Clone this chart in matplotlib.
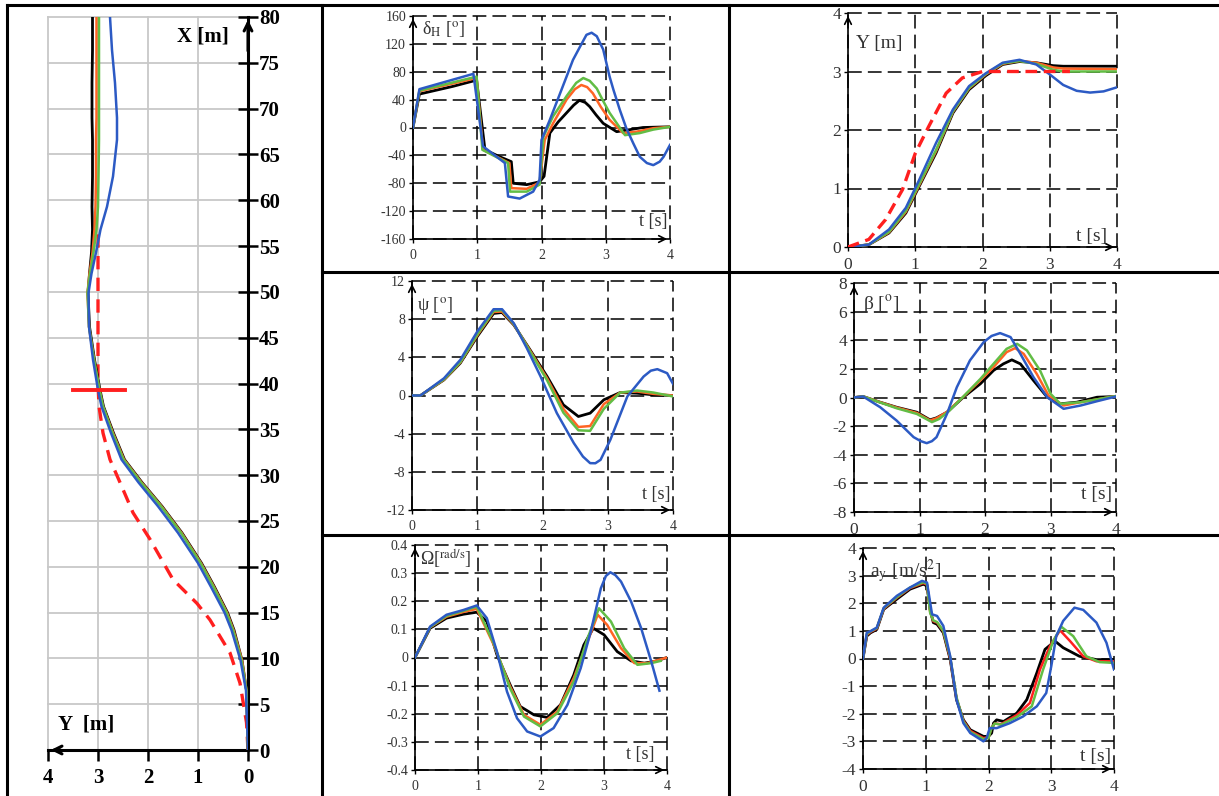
import matplotlib
matplotlib.use("Agg")
import matplotlib.pyplot as plt
from matplotlib.lines import Line2D

plt.rcParams['font.family'] = ['Liberation Serif', 'DejaVu Serif']
plt.rcParams['mathtext.fontset'] = 'stix'

W, H = 1219, 796

BLACK = '#000000'
ORANGE = '#ff6424'
GREEN = '#62bd45'
BLUE = '#2c5ac4'
RED = '#ff1f1f'
TXT = '#333333'

# ---------------- trajectory X-Y (left panel) ----------------
path_X = [0, 6.5, 9.8, 13.1, 15.0, 17.8, 20.4, 23.7, 26.6, 29.2, 31.7, 34.6, 37.5, 39.3,
          42.6, 46.2, 49.9, 52.0, 54.3, 56.8, 59.3, 62.6, 66.6, 69.0, 72.8, 76.4, 80.0]
path_black = [0, 0.03, 0.12, 0.28, 0.41, 0.67, 0.93, 1.32, 1.72, 2.12, 2.47, 2.69, 2.89, 2.96,
              3.07, 3.17, 3.2, 3.17, 3.13, 3.11, 3.12, 3.11, 3.11, 3.12, 3.12, 3.11, 3.11]
path_orange = [0, 0.03, 0.12, 0.29, 0.42, 0.68, 0.94, 1.33, 1.73, 2.13, 2.48, 2.7, 2.9, 2.97,
               3.08, 3.18, 3.21, 3.17, 3.11, 3.07, 3.05, 3.04, 3.04, 3.03, 3.03, 3.03, 3.03]
path_green = [0, 0.03, 0.13, 0.3, 0.43, 0.69, 0.95, 1.34, 1.74, 2.14, 2.49, 2.71, 2.9, 2.97,
              3.08, 3.18, 3.21, 3.16, 3.09, 3.03, 3.0, 2.99, 2.98, 2.98, 2.98, 2.98, 2.98]
path_blue = [0, 0.04, 0.15, 0.33, 0.47, 0.74, 1.0, 1.4, 1.8, 2.19, 2.53, 2.74, 2.93, 3.0,
             3.1, 3.18, 3.19, 3.13, 3.04, 2.95, 2.82, 2.7, 2.62, 2.62, 2.66, 2.72, 2.76]
ref_X = [0, 3, 7.3, 10.6, 14.2, 16.0, 18.6, 23.0, 25.9, 29.2, 31.7, 34.6, 37.5, 40, 57]
ref_Y = [0, 0.03, 0.16, 0.36, 0.76, 1.02, 1.5, 1.96, 2.3, 2.56, 2.76, 2.9, 2.98, 3.0, 3.0]
gate_X = 39.3
gate_Y = [2.46, 3.5]

# ---------------- steering wheel angle dH ----------------
dH_black_t = [0, 0.1, 0.62, 0.99, 1.12, 1.35, 1.53, 1.56, 1.77, 1.97, 2.04, 2.13, 2.26, 2.39,
              2.5, 2.59, 2.68, 2.75, 2.85, 2.96, 3.17, 3.38, 3.58, 4.0]
dH_black = [0, 48, 59, 68, -32, -42, -49, -80, -82, -78, -70, -8, 8, 21, 32, 39, 36, 30, 18, 6,
            -6, -3, 0, 1]
dH_orange_t = [0, 0.1, 0.99, 1.09, 1.5, 1.53, 1.77, 1.97, 2.05, 2.18, 2.39, 2.52, 2.62, 2.71,
               2.8, 2.92, 3.06, 3.27, 3.48, 3.74, 4.0]
dH_orange = [0, 52, 71, -32, -51, -87, -88, -79, -18, 6, 40, 55, 61, 58, 49, 30, 11, -8, -6, -1, 1]
dH_green_t = [0, 0.1, 0.99, 1.08, 1.48, 1.51, 1.77, 1.97, 2.03, 2.18, 2.39, 2.54, 2.65, 2.75,
              2.86, 2.96, 3.06, 3.3, 3.53, 3.74, 4.0]
dH_green = [0, 53, 73, -32, -51, -92, -92, -82, -13, 16, 45, 64, 71, 67, 56, 38, 21, -11, -8, -3, 1]
dH_blue_t = [0, 0.1, 0.94, 1.09, 1.43, 1.48, 1.66, 1.87, 1.97, 2.0, 2.13, 2.39, 2.49, 2.6,
             2.7, 2.78, 2.86, 2.96, 3.06, 3.12, 3.22, 3.32, 3.43, 3.53, 3.64, 3.74, 3.84, 3.9, 4.0]
dH_blue = [0, 55, 77, -27, -51, -99, -102, -92, -75, -18, 11, 73, 97, 116, 133, 136, 131, 112,
           73, 54, 25, -1, -23, -42, -51, -54, -49, -42, -25]

# ---------------- lateral position Y(t) ----------------
Y_ref_t = [0, 0.31, 0.56, 0.81, 1.0, 1.2, 1.46, 1.7, 2.0, 2.5, 3.3]
Y_ref = [0, 0.13, 0.47, 0.98, 1.6, 2.06, 2.63, 2.89, 3.0, 3.0, 3.0]
Y_t = [0, 0.31, 0.61, 0.86, 1.06, 1.31, 1.56, 1.8, 2.05, 2.3, 2.55, 2.8, 3.05, 3.2, 4.0]
Y_black = [0, 0.04, 0.24, 0.58, 1.04, 1.61, 2.29, 2.69, 2.93, 3.12, 3.17, 3.15, 3.1, 3.09, 3.09]
Y_orange = [0, 0.04, 0.25, 0.6, 1.06, 1.64, 2.31, 2.71, 2.95, 3.13, 3.18, 3.15, 3.07, 3.05, 3.04]
Y_green = [0, 0.04, 0.26, 0.62, 1.08, 1.66, 2.32, 2.72, 2.96, 3.14, 3.18, 3.13, 3.03, 3.0, 3.0]
Y_blue_t = [0, 0.31, 0.61, 0.86, 1.06, 1.31, 1.56, 1.8, 2.05, 2.3, 2.55, 2.8, 3.0, 3.2, 3.4,
            3.6, 3.8, 4.0]
Y_blue = [0, 0.04, 0.3, 0.67, 1.15, 1.78, 2.35, 2.75, 2.97, 3.15, 3.2, 3.12, 2.95, 2.77, 2.67,
          2.64, 2.66, 2.73]

# ---------------- yaw angle psi ----------------
psi_t = [0, 0.13, 0.49, 0.74, 1.0, 1.25, 1.38, 1.56, 1.81, 2.07, 2.32, 2.55, 2.73, 2.94, 3.19,
         3.45, 3.7, 4.0]
psi_black = [0, 0, 1.64, 3.39, 6.18, 8.6, 8.7, 7.4, 4.78, 2.0, -0.98, -2.2, -1.85, -0.45, 0.31,
             0.24, 0.07, 0]
psi_orange = [0, 0, 1.66, 3.45, 6.3, 8.75, 8.8, 7.45, 4.7, 1.8, -1.4, -3.3, -3.2, -0.9, 0.3,
              0.42, 0.17, 0]
psi_green = [0, 0, 1.7, 3.5, 6.4, 8.85, 8.95, 7.5, 4.6, 1.6, -1.8, -3.65, -3.7, -1.4, 0.3,
             0.52, 0.31, -0.1]
psi_blue_t = [0, 0.13, 0.49, 0.74, 1.0, 1.25, 1.38, 1.56, 1.76, 1.97, 2.22, 2.48, 2.62, 2.73,
              2.81, 2.89, 3.04, 3.3, 3.55, 3.66, 3.76, 3.91, 4.0]
psi_blue = [0, 0, 1.8, 3.73, 6.7, 9.04, 9.04, 7.57, 4.96, 2.0, -1.85, -4.99, -6.4, -7.09, -7.1,
            -6.74, -4.64, -0.1, 1.99, 2.6, 2.76, 2.34, 1.22]

# ---------------- side slip angle beta ----------------
beta_black_t = [0, 0.14, 0.4, 0.65, 0.96, 1.16, 1.26, 1.42, 1.67, 1.93, 2.13, 2.28, 2.41, 2.54,
                2.74, 2.95, 3.15, 3.4, 3.71, 4.0]
beta_black = [0, 0.07, -0.33, -0.68, -1.03, -1.56, -1.42, -1.03, 0.02, 0.96, 1.89, 2.35, 2.63,
              2.35, 1.19, 0.02, -0.44, -0.33, 0.02, 0.07]
beta_orange_t = [0, 0.14, 0.4, 0.65, 0.96, 1.16, 1.26, 1.42, 1.67, 1.93, 2.13, 2.33, 2.46, 2.59,
                 2.79, 2.97, 3.2, 3.46, 4.0]
beta_orange = [0, 0.07, -0.33, -0.7, -1.08, -1.6, -1.45, -1.0, 0.05, 1.2, 2.12, 3.17, 3.45,
               3.05, 1.65, 0.14, -0.56, -0.33, 0.1]
beta_green_t = [0, 0.14, 0.4, 0.65, 0.96, 1.19, 1.3, 1.45, 1.67, 1.93, 2.13, 2.33, 2.49, 2.64,
                2.84, 3.0, 3.15, 3.46, 4.0]
beta_green = [0, 0.07, -0.35, -0.75, -1.15, -1.72, -1.5, -0.95, 0.07, 1.3, 2.35, 3.4, 3.75,
              3.29, 1.89, 0.26, -0.44, -0.33, 0.1]
beta_blue_t = [0, 0.14, 0.4, 0.65, 0.91, 1.02, 1.11, 1.19, 1.26, 1.42, 1.57, 1.77, 1.98, 2.1,
               2.23, 2.39, 2.54, 2.74, 2.95, 3.2, 3.46, 3.71, 4.0]
beta_blue = [0, 0.07, -0.68, -1.61, -2.77, -3.05, -3.19, -3.05, -2.77, -1.14, 0.72, 2.59, 3.87,
             4.3, 4.5, 4.22, 3.05, 1.42, 0.02, -0.79, -0.56, -0.26, 0.07]

# ---------------- yaw rate Omega ----------------
om_black_t = [0, 0.24, 0.5, 0.77, 0.98, 1.14, 1.3, 1.51, 1.67, 1.89, 2.1, 2.31, 2.52, 2.68, 2.83,
              3.0, 3.21, 3.43, 3.64, 3.8, 4.0]
om_black = [0, 0.104, 0.14, 0.154, 0.161, 0.128, 0.01, -0.097, -0.174, -0.204, -0.213, -0.168,
            -0.062, 0.045, 0.104, 0.081, 0.021, -0.012, -0.02, -0.014, 0]
om_orange_t = [0, 0.24, 0.5, 0.77, 0.98, 1.25, 1.51, 1.73, 1.99, 2.26, 2.52, 2.74, 2.9, 3.05,
               3.27, 3.48, 3.69, 4.0]
om_orange = [0, 0.107, 0.145, 0.162, 0.173, 0.045, -0.103, -0.204, -0.239, -0.192, -0.073,
             0.057, 0.152, 0.116, 0.033, -0.02, -0.02, 0]
om_green_t = [0, 0.24, 0.5, 0.77, 0.98, 1.25, 1.51, 1.73, 1.99, 2.26, 2.52, 2.74, 2.92, 3.11,
              3.32, 3.53, 3.75, 3.9]
om_green = [0, 0.108, 0.148, 0.166, 0.181, 0.05, -0.11, -0.21, -0.245, -0.198, -0.085, 0.069,
            0.175, 0.128, 0.033, -0.026, -0.02, -0.012]
om_blue_t = [0, 0.24, 0.5, 0.77, 0.98, 1.14, 1.3, 1.46, 1.62, 1.78, 1.99, 2.2, 2.42, 2.63, 2.79,
             2.95, 3.03, 3.1, 3.18, 3.27, 3.43, 3.59, 3.75, 3.88]
om_blue = [0, 0.11, 0.152, 0.169, 0.185, 0.14, 0.021, -0.121, -0.216, -0.263, -0.281, -0.251,
           -0.168, -0.038, 0.092, 0.246, 0.29, 0.303, 0.293, 0.27, 0.199, 0.104, -0.014, -0.118]

# ---------------- lateral acceleration ay ----------------
ay_black_t = [0, 0.06, 0.12, 0.22, 0.33, 0.54, 0.75, 0.96, 1.02, 1.07, 1.12, 1.18, 1.28, 1.39,
              1.49, 1.6, 1.71, 1.92, 2.0, 2.05, 2.08, 2.13, 2.24, 2.45, 2.61, 2.77, 2.9, 3.06,
              3.19, 3.45, 3.72, 4.0]
ay_black = [0, 0.81, 0.93, 1.05, 1.78, 2.15, 2.51, 2.69, 2.63, 1.78, 1.3, 1.24, 0.93, -0.04,
            -1.49, -2.22, -2.58, -2.82, -2.82, -2.7, -2.34, -2.22, -2.28, -1.98, -1.49, -0.52,
            0.33, 0.63, 0.39, 0.08, -0.04, -0.04]
ay_red_t = [0, 0.06, 0.12, 0.22, 0.33, 0.54, 0.75, 0.96, 1.02, 1.07, 1.12, 1.18, 1.28, 1.39,
            1.49, 1.6, 1.71, 1.92, 2.0, 2.05, 2.1, 2.2, 2.45, 2.66, 2.82, 2.98, 3.14, 3.3, 3.51,
            3.72, 4.0]
ay_red = [0, 0.85, 0.96, 1.08, 1.8, 2.2, 2.55, 2.73, 2.67, 1.7, 1.35, 1.3, 0.98, 0.0, -1.45,
          -2.25, -2.62, -2.88, -2.85, -2.5, -2.35, -2.38, -2.05, -1.61, -0.4, 0.45, 1.02, 0.63,
          0.08, -0.1, -0.1]
ay_green_t = [0, 0.06, 0.12, 0.22, 0.33, 0.54, 0.75, 0.96, 1.02, 1.07, 1.12, 1.18, 1.28, 1.39,
              1.49, 1.6, 1.71, 1.92, 2.0, 2.05, 2.1, 2.2, 2.45, 2.69, 2.87, 3.03, 3.16, 3.35,
              3.56, 3.77, 4.0]
ay_green = [0, 0.88, 0.98, 1.1, 1.82, 2.22, 2.57, 2.76, 2.7, 1.65, 1.38, 1.32, 1.0, 0.05, -1.4,
            -2.28, -2.66, -2.92, -2.88, -2.5, -2.35, -2.4, -2.12, -1.73, -0.4, 0.63, 1.15, 0.81,
            0.08, -0.13, -0.16]
ay_blue_t = [0, 0.06, 0.12, 0.22, 0.33, 0.54, 0.75, 0.94, 1.02, 1.1, 1.18, 1.28, 1.39, 1.49,
             1.6, 1.71, 1.92, 1.97, 2.02, 2.13, 2.34, 2.55, 2.77, 2.92, 3.0, 3.08, 3.19, 3.37,
             3.51, 3.72, 3.88, 4.0]
ay_blue = [0, 0.93, 0.99, 1.12, 1.84, 2.27, 2.57, 2.81, 2.75, 1.6, 1.54, 1.18, 0.08, -1.49,
           -2.34, -2.7, -3.0, -2.88, -2.52, -2.52, -2.34, -2.1, -1.73, -1.25, -0.28, 0.81, 1.36,
           1.84, 1.76, 1.3, 0.57, -0.4]


def box(x0, y0, x1, y1):
    return [x0 / W, 1 - y1 / H, (x1 - x0) / W, (y1 - y0) / H]


fig = plt.figure(figsize=(W / 100, H / 100), dpi=100)


def fline(x0, y0, x1, y1, lw=2.2):
    fig.add_artist(Line2D([x0 / W, x1 / W], [1 - y0 / H, 1 - y1 / H], color='black', lw=lw))


# table frame
fline(7, 5, W, 5)
fline(7, 5, 7, H)
fline(322, 5, 322, H)
fline(729, 5, 729, H)
fline(322, 272, W, 272)
fline(322, 535, W, 535)

# ---- left panel ----
ax = fig.add_axes(box(48, 17, 248, 750))
ax.set_xlim(4, 0)
ax.set_ylim(0, 80)
ax.set_xticks(range(0, 5))
ax.set_yticks(range(0, 81, 5))
ax.grid(True, color='#c8c8c8', lw=1.3)
ax.set_axisbelow(True)
for gl in ax.get_xgridlines() + ax.get_ygridlines():
    gl.set_clip_on(False)
ax.spines['left'].set_visible(False)
ax.spines['top'].set_visible(False)
ax.spines['right'].set_linewidth(2.2)
ax.spines['bottom'].set_linewidth(2.2)
ax.yaxis.tick_right()
ax.tick_params(axis='y', direction='inout', length=14, width=1.8, labelsize=15, pad=1)
ax.tick_params(axis='x', direction='out', length=8, width=1.8, labelsize=15, pad=5)
for lab in ax.get_xticklabels() + ax.get_yticklabels():
    lab.set_fontweight('bold')

ax.plot(path_black, path_X, color=BLACK, lw=2.0, zorder=4)
ax.plot(path_orange, path_X, color=ORANGE, lw=1.8, zorder=4)
ax.plot(path_green, path_X, color=GREEN, lw=1.8, zorder=4)
ax.plot(path_blue, path_X, color=BLUE, lw=1.8, zorder=5)
ax.plot(ref_Y, ref_X, color=RED, lw=2.4, ls=(0, (4, 2.5)), zorder=3)
ax.plot(gate_Y, [gate_X, gate_X], color=RED, lw=2.8, zorder=6)

ax.annotate('', xy=(0, 80), xytext=(0, 76), annotation_clip=False,
            arrowprops=dict(arrowstyle='->', color='black', lw=2.2, mutation_scale=14))
ax.annotate('', xy=(4, 0), xytext=(3.7, 0), annotation_clip=False,
            arrowprops=dict(arrowstyle='->', color='black', lw=2.2, mutation_scale=14))
fig.text(177 / W, 1 - 46 / H, 'X [m]', fontsize=15, fontweight='bold', va='bottom')
fig.text(58 / W, 1 - 734 / H, 'Y  [m]', fontsize=15, fontweight='bold', va='bottom')


def panel(b, ylim, yticks, ylabels, label, lpos, tpos, series, tick_fs, lab_fs):
    a = fig.add_axes(box(*b))
    a.set_xlim(0, 4)
    a.set_ylim(*ylim)
    a.set_xticks(range(5))
    a.set_yticks(yticks)
    a.set_yticklabels(ylabels)
    a.grid(True, color='black', lw=1.1, ls=(0, (9, 4)))
    a.set_axisbelow(True)
    for gl in a.get_xgridlines() + a.get_ygridlines():
        gl.set_clip_on(False)
    a.spines['top'].set_visible(False)
    a.spines['right'].set_visible(False)
    a.spines['left'].set_linewidth(1.2)
    a.spines['bottom'].set_linewidth(1.2)
    a.tick_params(axis='both', length=3, width=1, labelsize=tick_fs, labelcolor=TXT)
    a.tick_params(axis='y', pad=2)
    a.tick_params(axis='x', pad=4)
    for t, v, c, kw in series:
        a.plot(t, v, color=c, lw=kw.get('lw', 1.8), ls=kw.get('ls', '-'), zorder=kw.get('z', 3))
    a.annotate('', xy=(0, ylim[1]), xytext=(0, ylim[1] - (ylim[1] - ylim[0]) * 0.06),
               annotation_clip=False,
               arrowprops=dict(arrowstyle='->', color='black', lw=1.2, mutation_scale=12))
    a.annotate('', xy=(4, ylim[0]), xytext=(3.8, ylim[0]), annotation_clip=False,
               arrowprops=dict(arrowstyle='->', color='black', lw=1.2, mutation_scale=12))
    a.text(lpos[0], lpos[1], label, transform=a.transAxes, fontsize=lab_fs, color=TXT,
           ha='left', va='top')
    a.text(tpos[0], tpos[1], 't [s]', transform=a.transAxes, fontsize=lab_fs, color=TXT,
           ha='right', va='bottom')
    return a


no = {}
panel((413, 16, 670, 239), (-160, 160), range(-160, 161, 40),
      [str(v) for v in range(-160, 161, 40)],
      r'δ$_{\mathrm{H}}$ [$^{\mathrm{o}}$]', (0.035, 0.985), (0.99, 0.04),
      [(dH_black_t, dH_black, BLACK, {'lw': 2.0}), (dH_orange_t, dH_orange, ORANGE, no),
       (dH_green_t, dH_green, GREEN, no), (dH_blue_t, dH_blue, BLUE, no)], 10, 13)

panel((848, 13, 1117, 247), (0, 4), range(0, 5), [str(v) for v in range(0, 5)],
      'Y [m]', (0.03, 0.905), (0.963, 0.01),
      [(Y_t, Y_black, BLACK, {'lw': 2.0}), (Y_t, Y_orange, ORANGE, no),
       (Y_t, Y_green, GREEN, no), (Y_blue_t, Y_blue, BLUE, {'z': 4}),
       (Y_ref_t, Y_ref, RED, {'lw': 2.4, 'ls': (0, (3.5, 2)), 'z': 5})], 12.5, 14)

panel((412, 281, 673, 510), (-12, 12), range(-12, 13, 4), [str(v) for v in range(-12, 13, 4)],
      r'ψ [$^{\mathrm{o}}$]', (0.02, 0.94), (0.989, 0.03),
      [(psi_t, psi_black, BLACK, {'lw': 2.0}), (psi_t, psi_orange, ORANGE, no),
       (psi_t, psi_green, GREEN, no), (psi_blue_t, psi_blue, BLUE, {'z': 4})], 10, 13)

panel((854, 283, 1116, 512), (-8, 8), range(-8, 9, 2), [str(v) for v in range(-8, 9, 2)],
      r'β [$^{\mathrm{o}}$]', (0.034, 0.955), (0.985, 0.04),
      [(beta_black_t, beta_black, BLACK, {'lw': 2.0}), (beta_orange_t, beta_orange, ORANGE, no),
       (beta_green_t, beta_green, GREEN, no), (beta_blue_t, beta_blue, BLUE, {'z': 4})],
      12.5, 14)

om_ticks = [-0.4, -0.3, -0.2, -0.1, 0, 0.1, 0.2, 0.3, 0.4]
panel((415, 545, 667, 770), (-0.4, 0.4), om_ticks,
      ['-0.4', '-0.3', '-0.2', '-0.1', '0', '0.1', '0.2', '0.3', '0.4'],
      r'Ω[$^{\mathrm{rad/s}}$]', (0.02, 0.99), (0.952, 0.031),
      [(om_black_t, om_black, BLACK, {'lw': 2.0}), (om_orange_t, om_orange, ORANGE, no),
       (om_green_t, om_green, GREEN, no), (om_blue_t, om_blue, BLUE, {'z': 4})], 10, 13)

panel((863, 548, 1114, 769), (-4, 4), range(-4, 5), [str(v) for v in range(-4, 5)],
      r'a$_{\mathrm{y}}$ [m/s$^{2}$]', (0.028, 0.96), (0.99, 0.018),
      [(ay_black_t, ay_black, BLACK, {'lw': 2.0}), (ay_red_t, ay_red, RED, no),
       (ay_green_t, ay_green, GREEN, no), (ay_blue_t, ay_blue, BLUE, {'z': 4})], 12.5, 14)

fig.savefig('out.png', dpi=100)
